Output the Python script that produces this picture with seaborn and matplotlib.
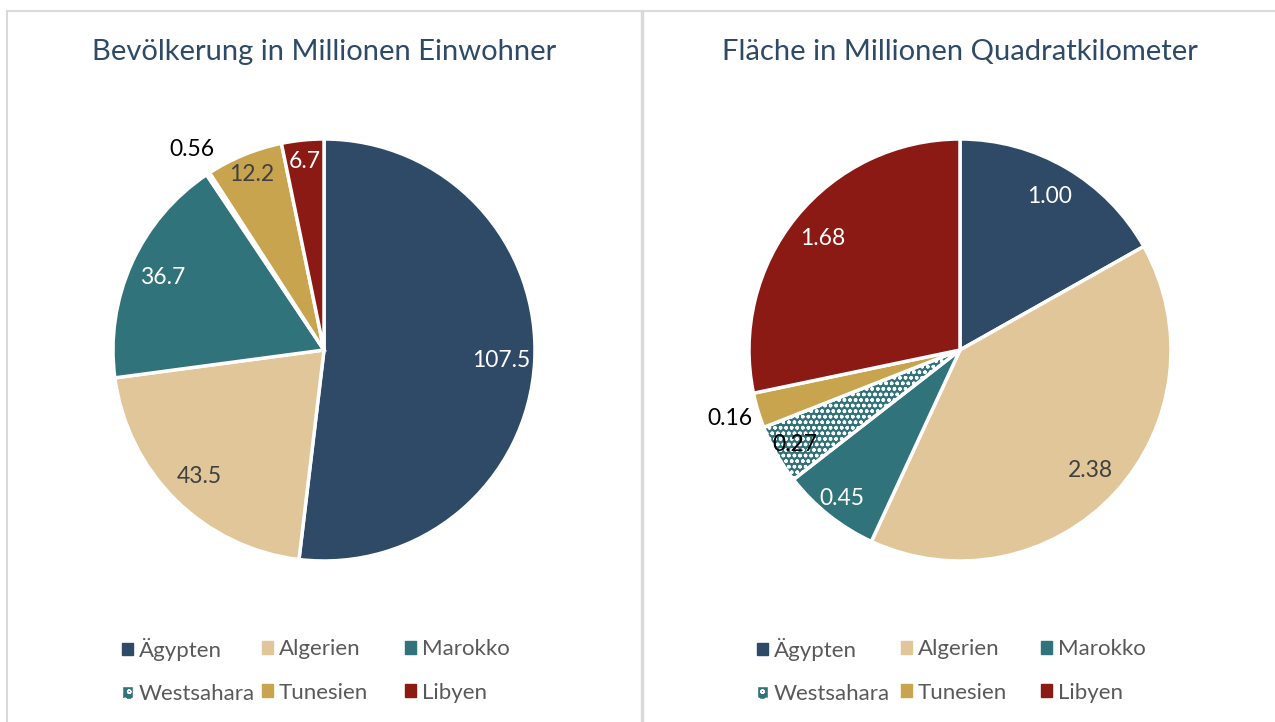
import matplotlib
matplotlib.use("Agg")
import matplotlib.pyplot as plt
from matplotlib.patches import Patch
from matplotlib.lines import Line2D
import numpy as np
import seaborn as sns

sns.set_style("white")
plt.rcParams['font.family'] = ['Lato', 'DejaVu Sans']

countries = ["Ägypten", "Algerien", "Marokko", "Westsahara", "Tunesien", "Libyen"]
population = [107.5, 43.5, 36.7, 0.56, 12.2, 6.7]
pop_labels = ["107.5", "43.5", "36.7", "0.56", "12.2", "6.7"]
area = [1.00, 2.38, 0.45, 0.27, 0.16, 1.68]
area_labels = ["1.00", "2.38", "0.45", "0.27", "0.16", "1.68"]
titles = ["Bevölkerung in Millionen Einwohner", "Fläche in Millionen Quadratkilometer"]

colors = ["#2E4A66", "#E0C699", "#31737A", "#31737A", "#C9A44E", "#8B1A14"]
text_colors = ["white", "#404040", "white", "black", "#404040", "white"]
title_color = "#2E4A66"

W, H = 1275, 722
fig = plt.figure(figsize=(W / 100, H / 100), dpi=100)

# panel borders
bc = "#D9D9D9"
fig.add_artist(Line2D([7 / W, 7 / W], [0, 1 - 11 / H], color=bc, lw=1.5, transform=fig.transFigure))
fig.add_artist(Line2D([7 / W, 1], [1 - 11 / H, 1 - 11 / H], color=bc, lw=1.5, transform=fig.transFigure))
fig.add_artist(Line2D([642 / W, 642 / W], [0, 1 - 11 / H], color=bc, lw=2.5, transform=fig.transFigure))


def draw(cx, cy, r, values, labels, title, outside, legend_xs):
    ax = fig.add_axes([(cx - r) / W, (H - cy - r) / H, 2 * r / W, 2 * r / H])
    wedges, _ = ax.pie(values, colors=colors, startangle=90, counterclock=False,
                       wedgeprops=dict(edgecolor="white", linewidth=2.5))
    wedges[3].set_hatch("ooo")
    total = sum(values)
    for i, (w, lab, tc, v) in enumerate(zip(wedges, labels, text_colors, values)):
        ang = np.deg2rad((w.theta1 + w.theta2) / 2)
        frac = v / total
        if i in outside:
            d, col = 1.14, "black"
        elif frac < 0.08:
            d, col = 0.9, tc
        else:
            d, col = 0.84, tc
        ax.text(d * np.cos(ang), d * np.sin(ang), lab, ha="center", va="center",
                fontsize=16.5, color=col)
    ax.set_xlim(-1, 1)
    ax.set_ylim(-1, 1)
    ax.set_aspect("equal")
    ax.axis("off")
    fig.text(cx / W, 1 - 52 / H, title, ha="center", va="center", fontsize=21, color=title_color)
    handles = [Patch(facecolor=c, edgecolor=("white" if i == 3 else c), hatch=("oo" if i == 3 else None))
               for i, c in enumerate(colors)]
    cols = [[0, 3], [1, 4], [2, 5]]
    for x, idx in zip(legend_xs, cols):
        fig.legend([handles[i] for i in idx], [countries[i] for i in idx],
                   loc="center left", bbox_to_anchor=(x / W, 1 - 671 / H), frameon=False,
                   fontsize=16, handlelength=0.5, handleheight=0.5, handletextpad=0.25,
                   labelspacing=1.05, labelcolor="#595959", borderpad=0, borderaxespad=0)


draw(324, 350, 211, population, pop_labels, titles[0], [3], [122, 262, 405])
draw(960, 350, 211, area, area_labels, titles[1], [4], [757, 901, 1041])

fig.savefig("out.png", dpi=100, facecolor="white")
